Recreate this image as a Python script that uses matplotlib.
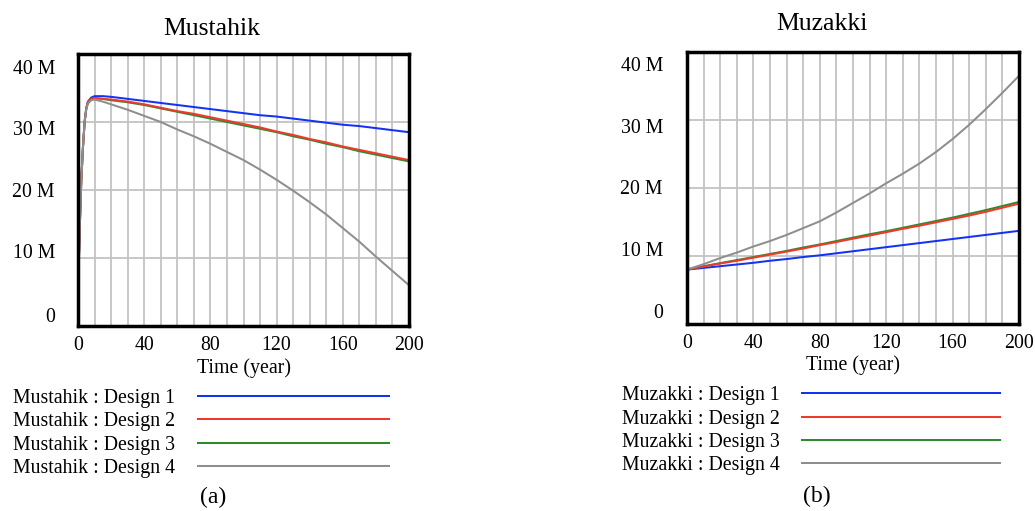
import matplotlib
matplotlib.use("Agg")
import matplotlib.pyplot as plt
from matplotlib.lines import Line2D
import matplotlib.transforms as mtransforms

plt.rcParams['font.family'] = ['Liberation Serif', 'DejaVu Serif']

# ---------------- data ----------------
t_mus = [0, 1, 2, 3, 4, 5, 6, 8, 10, 15, 20, 30, 40, 50, 60, 70, 80, 90, 100,
         110, 120, 130, 140, 150, 160, 170, 180, 190, 200]
mus_d1 = [4.8, 14.0, 21.5, 26.3, 30.0, 32.0, 33.0, 33.6, 33.8, 33.8, 33.7, 33.4, 33.1,
          32.8, 32.5, 32.2, 31.9, 31.6, 31.3, 31.0, 30.8, 30.5, 30.2, 29.9, 29.6,
          29.4, 29.1, 28.8, 28.5]
mus_d2 = [4.8, 14.0, 21.5, 26.3, 30.0, 32.0, 32.9, 33.4, 33.5, 33.4, 33.3, 33.0, 32.6,
          32.1, 31.6, 31.2, 30.7, 30.2, 29.7, 29.2, 28.6, 28.1, 27.5, 27.0, 26.4,
          25.9, 25.4, 24.9, 24.4]
mus_d3 = [4.8, 14.0, 21.5, 26.3, 30.0, 32.0, 32.9, 33.4, 33.5, 33.4, 33.2, 32.9, 32.5,
          32.0, 31.5, 31.0, 30.5, 30.0, 29.5, 29.0, 28.5, 27.9, 27.4, 26.8, 26.3,
          25.7, 25.2, 24.7, 24.2]
mus_d4 = [4.8, 14.0, 21.5, 26.3, 30.0, 31.9, 32.7, 33.2, 33.3, 33.0, 32.6, 31.8, 30.9,
          30.0, 28.9, 27.9, 26.8, 25.6, 24.4, 23.0, 21.5, 19.9, 18.2, 16.4, 14.4,
          12.4, 10.2, 8.1, 6.0]

t_muz = [0, 10, 20, 30, 40, 50, 60, 70, 80, 90, 100, 110, 120, 130, 140, 150,
         160, 170, 180, 190, 200]
muz_d1 = [8.0, 8.25, 8.5, 8.75, 9.0, 9.3, 9.55, 9.85, 10.1, 10.4, 10.7, 11.0, 11.3,
          11.6, 11.9, 12.2, 12.5, 12.8, 13.1, 13.4, 13.7]
muz_d2 = [8.0, 8.45, 8.9, 9.3, 9.75, 10.2, 10.65, 11.1, 11.6, 12.05, 12.55, 13.0,
          13.5, 14.0, 14.45, 14.95, 15.45, 15.95, 16.5, 17.1, 17.7]
muz_d3 = [8.0, 8.5, 8.95, 9.4, 9.85, 10.3, 10.75, 11.25, 11.7, 12.2, 12.7, 13.2,
          13.65, 14.15, 14.65, 15.15, 15.65, 16.2, 16.75, 17.35, 17.95]
muz_d4 = [8.0, 8.8, 9.7, 10.5, 11.4, 12.2, 13.1, 14.1, 15.1, 16.4, 17.8, 19.2, 20.7,
          22.1, 23.6, 25.3, 27.2, 29.3, 31.6, 34.0, 36.5]

designs = ["Design 1", "Design 2", "Design 3", "Design 4"]
colors = ["#1432f5", "#ee3a2c", "#2e8a2e", "#8e8e8e"]
ytick_vals = [0, 10, 20, 30, 40]
ytick_labels = ["0", "10 M", "20 M", "30 M", "40 M"]
xtick_vals = [0, 40, 80, 120, 160, 200]
titles = ["Mustahik", "Muzakki"]
captions = ["(a)", "(b)"]

W, H = 1035, 511
fig = plt.figure(figsize=(W / 100, H / 100), dpi=100)


def fx(px):
    return px / W


def fy(py):
    return (H - py) / H


def make_panel(rect_px, t, series, name, title_xy, xlabel_xy, label_right,
               label_fracs, leg_text_x, leg_line_x, leg_line_y, caption, cap_xy):
    x0, x1, y0, y1 = rect_px
    ax = fig.add_axes([fx(x0), fy(y1), fx(x1 - x0), (y1 - y0) / H])
    for i in [0, 2, 1, 3]:
        ax.plot(t, series[i], color=colors[i], lw=1.45, zorder=3)
    ax.set_xlim(0, 200)
    ax.set_ylim(0, 40)
    grid_x = list(range(0, 201, 10))
    ax.set_xticks(grid_x)
    ax.set_xticklabels([str(v) if v in xtick_vals else "" for v in grid_x], fontsize=14.3)
    ax.set_yticks(ytick_vals)
    ax.set_yticklabels([])
    ax.tick_params(axis='both', length=0, pad=7.5)
    ax.grid(True, color="#c3c3c3", lw=1.3, zorder=1)
    for s in ax.spines.values():
        s.set_color("black")
        s.set_linewidth(2.5)
        s.set_zorder(5)
    trans = mtransforms.blended_transform_factory(fig.transFigure, ax.transAxes)
    for lab, fr in zip(ytick_labels, label_fracs):
        ax.text(fx(label_right), fr, lab, fontsize=14.3, ha='right', va='baseline',
                transform=trans)
    fig.text(fx(title_xy[0]), fy(title_xy[1]), name, fontsize=18.5,
             ha='center', va='baseline')
    fig.text(fx(xlabel_xy[0]), fy(xlabel_xy[1]), "Time (year)", fontsize=14.3,
             ha='center', va='baseline')
    for i, d in enumerate(designs):
        ly = leg_line_y[0] + i * leg_line_y[1]
        fig.text(fx(leg_text_x), fy(ly + 7), f"{name} : {d}", fontsize=14.3,
                 ha='left', va='baseline')
        fig.add_artist(Line2D([fx(leg_line_x[0]), fx(leg_line_x[1])], [fy(ly), fy(ly)],
                              color=colors[i], lw=1.45, transform=fig.transFigure))
    fig.text(fx(cap_xy[0]), fy(cap_xy[1]), caption, fontsize=17,
             ha='center', va='baseline')
    return ax


make_panel((78, 409, 54, 326), t_mus, [mus_d1, mus_d2, mus_d3, mus_d4], titles[0],
           (212, 35), (244, 373), 55, [0.016, 0.249, 0.473, 0.702, 0.926],
           13, (198, 389), (395.7, 23.4), captions[0], (213, 503))
make_panel((687, 1019, 52, 324), t_muz, [muz_d1, muz_d2, muz_d3, muz_d4], titles[1],
           (822, 30), (853, 370), 663, [0.021, 0.25, 0.478, 0.703, 0.931],
           622, (802, 1000), (393.3, 23.35), captions[1], (817, 502))

fig.savefig("out.png", dpi=100, facecolor="white")
